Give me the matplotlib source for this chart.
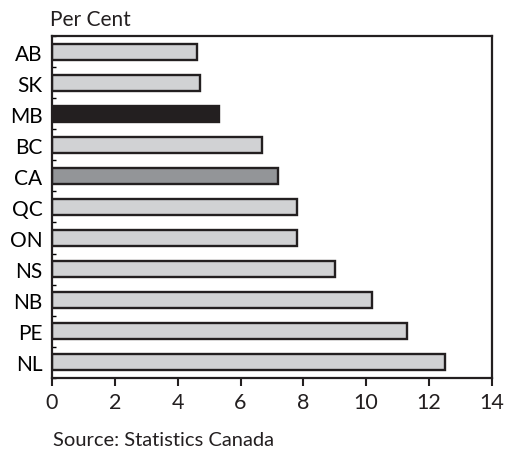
import matplotlib
matplotlib.use("Agg")
import matplotlib.pyplot as plt
from matplotlib.ticker import MultipleLocator

plt.rcParams['font.family'] = ['Lato', 'DejaVu Sans']

provinces = ["AB", "SK", "MB", "BC", "CA", "QC", "ON", "NS", "NB", "PE", "NL"]
values = [4.6, 4.7, 5.3, 6.7, 7.2, 7.8, 7.8, 9.0, 10.2, 11.3, 12.5]
x_ticks = [0, 2, 4, 6, 8, 10, 12, 14]

light = '#d1d2d4'
colors = {'MB': '#231f20', 'CA': '#939598'}
bar_colors = [colors.get(p, light) for p in provinces]

fig = plt.figure(figsize=(5.15, 4.52), dpi=100)
ax = fig.add_axes([0.101, 0.162, 0.854, 0.756])

ypos = list(range(len(provinces)))
ax.barh(ypos, values, height=0.52, color=bar_colors,
        edgecolor='#231f20', linewidth=1.7)

ax.set_xlim(0, 14)
ax.set_ylim(len(provinces) - 0.5, -0.5)
ax.set_xticks(x_ticks)
ax.set_yticks(ypos)
ax.set_yticklabels(provinces)
ax.yaxis.set_minor_locator(MultipleLocator(1, offset=0.5))

ax.tick_params(axis='x', direction='out', length=6, width=1.5,
               labelsize=15.5, pad=4, colors='#231f20')
ax.tick_params(axis='y', which='major', length=0, labelsize=15, pad=7)
ax.tick_params(axis='y', which='minor', direction='in', length=3, width=1)

for s in ax.spines.values():
    s.set_linewidth(1.6)
    s.set_color('#231f20')

fig.text(50 / 515, 1 - 20 / 452, "Per Cent", fontsize=15,
         ha='left', va='center', color='#231f20')
fig.text(53 / 515, 1 - 441 / 452, "Source: Statistics Canada", fontsize=14.5,
         ha='left', va='center', color='#231f20')

fig.savefig("out.png", dpi=100)
